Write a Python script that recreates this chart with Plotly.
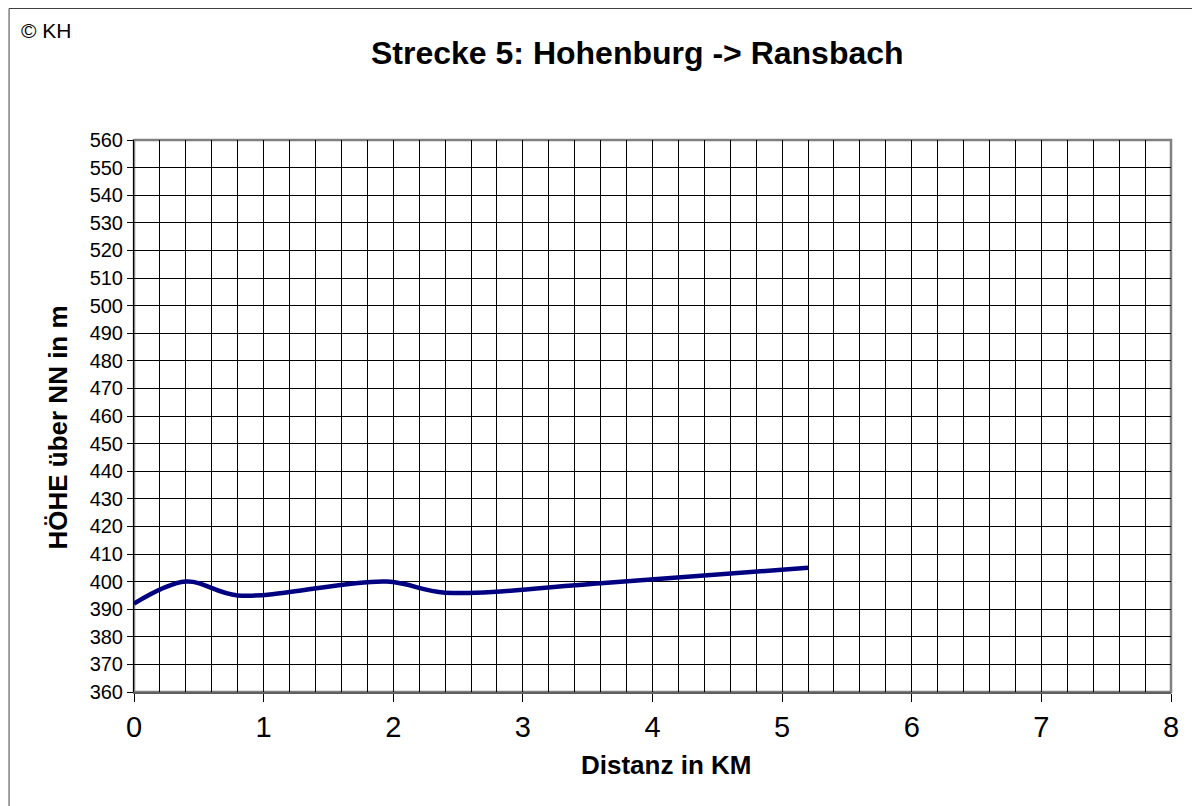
import plotly.graph_objects as go

# Data
distance_km = [0.0, 0.4, 0.8, 1.95, 2.4, 3.6, 5.2]
height_m = [392, 400, 395, 400, 396, 399.4, 405]

x_ticks = [0, 1, 2, 3, 4, 5, 6, 7, 8]
y_ticks = list(range(360, 561, 10))

# the page body has an 8px margin, so work in screen coordinates shifted by 8
OFF = 8
W, H = 1200 - OFF, 806 - OFF
L, R, T, B = 133.5 - OFF, 29, 140 - OFF, 114
PW, PH = W - L - R, H - T - B

def px(x):
    return (x - OFF - L) / PW

def py(y):
    return (H - B - (y - OFF)) / PH

FONT = "Liberation Sans, Arial, sans-serif"

fig = go.Figure()
fig.add_trace(go.Scatter(
    x=distance_km, y=height_m, mode="lines",
    line=dict(color="#000080", width=4.5, shape="spline", smoothing=1.0),
    hoverinfo="skip", showlegend=False,
))

fig.update_layout(
    width=W, height=H,
    margin=dict(l=L, r=R, t=T, b=B, pad=0),
    paper_bgcolor="white", plot_bgcolor="white",
    font=dict(family=FONT, color="black"),
    showlegend=False,
    xaxis=dict(
        range=[0, 8], tickmode="array", tickvals=x_ticks,
        ticktext=[str(v) for v in x_ticks],
        showgrid=True, gridcolor="black", gridwidth=1,
        minor=dict(dtick=0.2, showgrid=True, gridcolor="black", gridwidth=1),
        ticks="outside", ticklen=8, tickcolor="black", tickwidth=1,
        tickfont=dict(size=29, family=FONT, color="black"),
        showline=True, linecolor="#606060", linewidth=2,
        zeroline=False, fixedrange=True,
    ),
    yaxis=dict(
        range=[360, 560], tickmode="array", tickvals=y_ticks,
        ticktext=[str(v) for v in y_ticks],
        showgrid=True, gridcolor="black", gridwidth=1,
        ticks="outside", ticklen=6, tickcolor="black", tickwidth=1,
        tickfont=dict(size=20, family=FONT, color="black"),
        showline=True, linecolor="black", linewidth=1,
        zeroline=False, fixedrange=True,
    ),
    shapes=[
        dict(type="rect", xref="paper", yref="paper", x0=0, x1=1, y0=0, y1=1,
             line=dict(color="#808080", width=2.5), layer="below"),
        dict(type="rect", xref="paper", yref="paper",
             x0=px(OFF + 0.5), x1=px(1215), y0=py(820), y1=py(OFF + 0.5),
             line=dict(color="#404040", width=1), layer="below"),
    ],
    annotations=[
        dict(text="<b>Strecke 5: Hohenburg -> Ransbach</b>", xref="paper", yref="paper",
             x=px(637), y=py(53), xanchor="center", yanchor="middle",
             showarrow=False, font=dict(size=32, family=FONT, color="black")),
        dict(text="<b>Distanz in KM</b>", xref="paper", yref="paper",
             x=px(666), y=py(765), xanchor="center", yanchor="middle",
             showarrow=False, font=dict(size=26, family=FONT, color="black")),
        dict(text="<b>HÖHE über NN in m</b>", xref="paper", yref="paper",
             x=px(57), y=py(428), xanchor="center", yanchor="middle", textangle=-90,
             showarrow=False, font=dict(size=26, family=FONT, color="black")),
        dict(text="© KH", xref="paper", yref="paper",
             x=px(18), y=py(31), xanchor="left", yanchor="middle",
             showarrow=False, font=dict(size=21, family=FONT, color="black")),
    ],
)

fig.write_html("out.html", config={"displayModeBar": False})
